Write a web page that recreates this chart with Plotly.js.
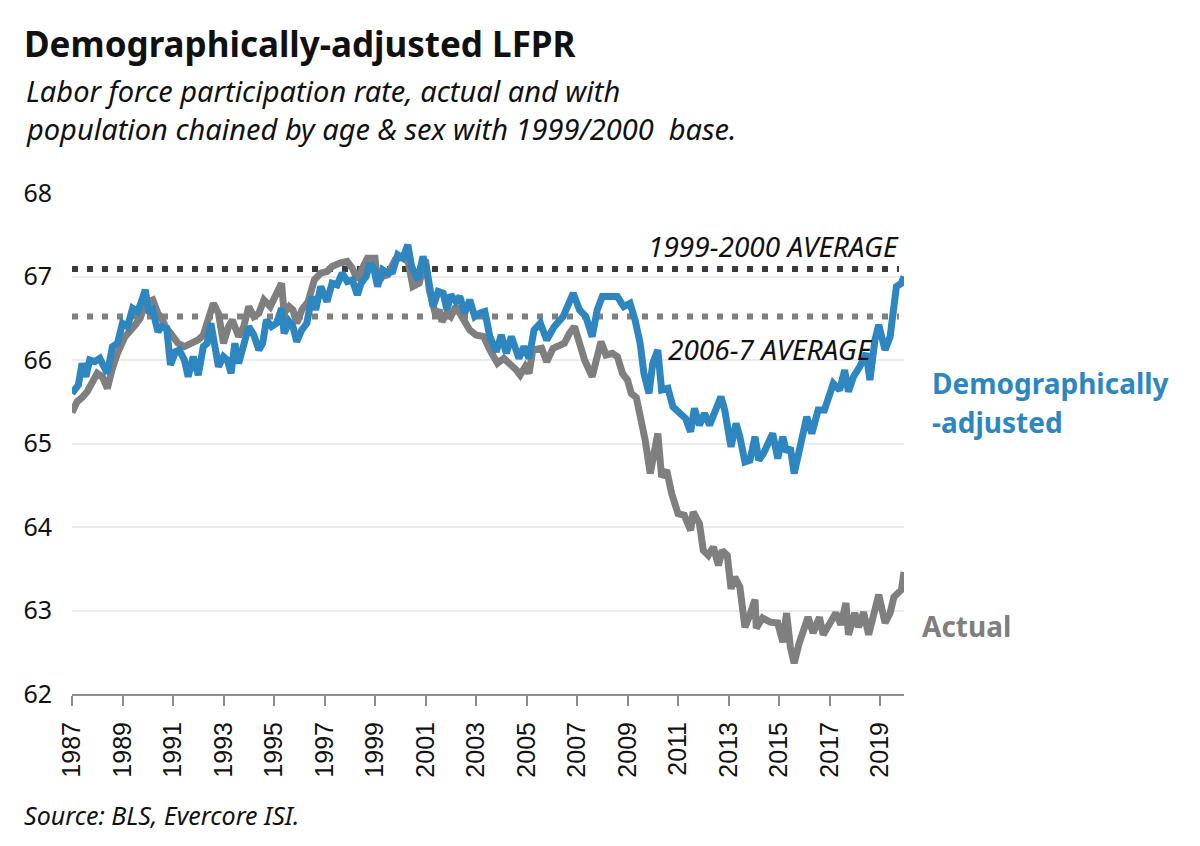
<!DOCTYPE html>
<html>
<head>
<meta charset="utf-8">
<script src="https://cdn.plot.ly/plotly-3.0.1.min.js"></script>
<style>html,body{margin:0;padding:0;background:#fff;}#chart{width:1200px;height:846px;}</style>
</head>
<body>
<div id="chart"></div>
<script>
// Demographically-adjusted LFPR (decimal years)
var adjYears = [1987.0,1987.25,1987.4,1987.55,1987.7,1987.9,1988.1,1988.3,1988.4,1988.6,1988.8,1989.0,1989.2,1989.4,1989.6,1989.75,1989.9,1990.05,1990.2,1990.4,1990.55,1990.75,1990.9,1991.1,1991.25,1991.45,1991.6,1991.8,1992.0,1992.2,1992.35,1992.5,1992.65,1992.8,1993.0,1993.15,1993.3,1993.45,1993.6,1993.8,1994.0,1994.2,1994.4,1994.55,1994.7,1994.9,1995.1,1995.3,1995.4,1995.6,1995.75,1995.9,1996.1,1996.3,1996.5,1996.65,1996.85,1997.1,1997.3,1997.5,1997.7,1997.9,1998.1,1998.3,1998.45,1998.65,1998.8,1998.95,1999.1,1999.3,1999.5,1999.7,1999.9,2000.1,2000.3,2000.45,2000.7,2000.9,2001.05,2001.3,2001.5,2001.7,2001.85,2002.0,2002.2,2002.36,2002.55,2002.75,2002.95,2003.15,2003.35,2003.55,2003.8,2004.0,2004.2,2004.4,2004.7,2004.9,2005.1,2005.3,2005.55,2005.8,2006.1,2006.45,2006.65,2006.85,2007.1,2007.35,2007.6,2007.8,2008.0,2008.3,2008.6,2008.85,2009.1,2009.3,2009.5,2009.65,2009.85,2010.0,2010.2,2010.35,2010.6,2010.8,2011.1,2011.3,2011.5,2011.65,2011.85,2012.05,2012.25,2012.45,2012.7,2012.85,2013.1,2013.3,2013.45,2013.65,2013.85,2014.05,2014.2,2014.4,2014.6,2014.75,2014.95,2015.15,2015.3,2015.45,2015.6,2015.85,2016.1,2016.3,2016.55,2016.8,2017.0,2017.15,2017.4,2017.6,2017.75,2017.95,2018.2,2018.45,2018.6,2018.8,2018.95,2019.2,2019.4,2019.5,2019.65,2019.85,2019.95];
var adjValues = [65.60,65.70,65.96,65.80,66.00,65.98,66.02,65.90,65.84,66.16,66.20,66.44,66.40,66.62,66.58,66.70,66.84,66.56,66.60,66.34,66.40,66.38,65.94,66.10,66.12,66.00,65.80,66.04,65.82,66.16,66.20,66.44,66.20,65.92,66.04,66.00,65.84,66.20,65.96,66.20,66.40,66.30,66.12,66.20,66.48,66.40,66.44,66.62,66.32,66.46,66.40,66.22,66.36,66.44,66.76,66.60,66.88,66.70,66.92,66.90,67.04,66.94,66.96,66.78,66.92,67.00,67.16,67.10,66.88,67.08,67.04,67.06,67.26,67.22,67.38,67.12,66.96,67.24,67.08,66.64,66.82,66.80,66.60,66.78,66.70,66.76,66.56,66.72,66.52,66.56,66.58,66.28,66.10,66.30,66.08,66.28,66.02,66.16,66.02,66.36,66.44,66.24,66.40,66.52,66.68,66.80,66.60,66.52,66.28,66.60,66.76,66.76,66.76,66.64,66.68,66.48,66.20,65.84,65.60,65.96,66.12,65.64,65.66,65.44,65.36,65.30,65.14,65.42,65.22,65.36,65.22,65.40,65.56,65.40,64.96,65.24,65.08,64.78,64.80,65.08,64.80,64.89,65.00,65.12,64.82,65.08,64.90,64.95,64.64,65.00,65.32,65.12,65.40,65.40,65.56,65.72,65.64,65.88,65.62,65.80,65.92,66.08,65.76,66.24,66.42,66.12,66.28,66.60,66.88,66.92,67.00];

// Actual LFPR (decimal years)
var actYears = [1987.0,1987.2,1987.4,1987.6,1987.8,1988.0,1988.2,1988.4,1988.6,1988.8,1989.1,1989.3,1989.5,1989.7,1989.9,1990.2,1990.4,1990.55,1990.7,1990.95,1991.2,1991.45,1991.7,1992.0,1992.2,1992.45,1992.6,1992.8,1993.0,1993.2,1993.35,1993.6,1993.8,1994.0,1994.2,1994.4,1994.6,1994.85,1995.1,1995.3,1995.4,1995.6,1995.75,1995.9,1996.1,1996.35,1996.6,1996.85,1997.1,1997.3,1997.6,1997.9,1998.1,1998.3,1998.5,1998.7,1999.0,1999.1,1999.3,1999.5,1999.8,2000.1,2000.3,2000.5,2000.75,2001.0,2001.15,2001.4,2001.55,2001.65,2001.85,2002.0,2002.2,2002.45,2002.75,2003.0,2003.3,2003.55,2003.85,2004.1,2004.35,2004.6,2004.75,2004.95,2005.1,2005.25,2005.6,2005.8,2006.05,2006.5,2006.7,2006.9,2007.1,2007.3,2007.6,2007.8,2007.95,2008.15,2008.4,2008.6,2008.8,2009.0,2009.15,2009.35,2009.55,2009.7,2009.9,2010.2,2010.35,2010.55,2010.75,2011.0,2011.25,2011.5,2011.6,2011.85,2012.0,2012.2,2012.4,2012.6,2012.75,2012.95,2013.1,2013.25,2013.45,2013.65,2013.85,2014.05,2014.1,2014.35,2014.65,2014.95,2015.15,2015.3,2015.45,2015.6,2015.8,2016.0,2016.15,2016.35,2016.6,2016.75,2017.0,2017.25,2017.45,2017.65,2017.75,2018.0,2018.15,2018.35,2018.55,2018.75,2018.95,2019.2,2019.4,2019.55,2019.7,2019.85,2019.95];
var actValues = [65.37,65.50,65.55,65.62,65.73,65.84,65.80,65.66,65.90,66.08,66.28,66.34,66.42,66.50,66.68,66.72,66.56,66.50,66.40,66.30,66.20,66.16,66.20,66.24,66.30,66.56,66.68,66.56,66.20,66.40,66.48,66.28,66.40,66.64,66.52,66.56,66.72,66.64,66.78,66.92,66.56,66.64,66.60,66.44,66.60,66.70,66.96,67.04,67.06,67.12,67.16,67.18,67.10,66.96,67.10,67.22,67.22,66.92,67.00,67.02,67.20,67.24,67.20,66.88,66.92,67.20,66.84,66.54,66.60,66.46,66.56,66.52,66.64,66.52,66.36,66.30,66.28,66.12,65.96,66.02,65.96,65.88,65.82,65.92,65.84,66.12,66.14,65.98,66.14,66.20,66.32,66.40,66.20,66.00,65.80,66.04,66.22,66.06,66.08,66.04,65.84,65.76,65.60,65.55,65.28,65.04,64.64,65.12,64.60,64.68,64.40,64.16,64.14,63.96,64.18,64.04,63.72,63.66,63.76,63.54,63.72,63.66,63.26,63.40,63.28,62.80,62.95,63.13,62.79,62.91,62.86,62.85,62.62,62.97,62.56,62.37,62.61,62.77,62.92,62.73,62.92,62.71,62.85,62.97,62.83,63.09,62.71,62.97,62.80,62.98,62.71,62.92,63.19,62.85,62.97,63.16,63.21,63.25,63.46];

// Reference averages
var avgLabels = ["1999-2000 AVERAGE", "2006-7 AVERAGE"];
var avgValues = [67.09, 66.52];
var avgSpan = [1987, 2019.75];

var xTickYears = [1987,1989,1991,1993,1995,1997,1999,2001,2003,2005,2007,2009,2011,2013,2015,2017,2019];
var yTicks = [62,63,64,65,66,67,68];

var traces = [
  {x: avgSpan, y: [avgValues[0], avgValues[0]], mode: 'lines', line: {color: '#3c3c3c', width: 6, dash: '6px,9px'}, hoverinfo: 'skip'},
  {x: avgSpan, y: [avgValues[1], avgValues[1]], mode: 'lines', line: {color: '#808080', width: 6, dash: '6px,9px'}, hoverinfo: 'skip'},
  {x: actYears, y: actValues, mode: 'lines', name: 'Actual', line: {color: '#7f7f7f', width: 7}},
  {x: adjYears, y: adjValues, mode: 'lines', name: 'Demographically-adjusted', line: {color: '#2e86c1', width: 7}}
];

var W = 832, H = 501, L = 72, T = 193;
function px(x){ return (x - L) / W; }
function py(y){ return (T + H - y) / H; }

var font = "'Noto Sans', 'Open Sans', sans-serif";

var layout = {
  width: 1200, height: 846,
  margin: {l: 72, r: 296, t: 193, b: 152, pad: 0},
  paper_bgcolor: '#ffffff', plot_bgcolor: '#ffffff',
  showlegend: false,
  font: {family: font, color: '#111'},
  title: {text: '<b>Demographically-adjusted LFPR</b>', x: 24/1200, xanchor: 'left', y: 1 - 45/846, yanchor: 'middle', font: {family: font, size: 35, color: '#111'}},
  xaxis: {
    range: [1987, 2019.95], tickmode: 'array', tickvals: xTickYears, ticktext: xTickYears.map(String),
    tickangle: -90, ticks: 'outside', ticklen: 10, tickwidth: 2, tickcolor: '#8c8c8c',
    showline: true, linecolor: '#8c8c8c', linewidth: 2, showgrid: false, zeroline: false,
    ticklabelstandoff: 6,
    tickfont: {family: "'Liberation Sans', Arial, sans-serif", size: 25, color: '#111'}
  },
  yaxis: {
    range: [62, 68], tickmode: 'array', tickvals: yTicks, ticks: '', showline: false,
    gridcolor: '#ebebeb', gridwidth: 2, zeroline: false, ticklabelstandoff: 19,
    tickfont: {family: font, size: 25, color: '#111'}
  },
  annotations: [
    {text: '<i>Labor force participation rate, actual and with</i>', xref: 'paper', yref: 'paper', x: px(24), y: py(91), xanchor: 'left', yanchor: 'middle', showarrow: false, font: {family: font, size: 29, color: '#111'}},
    {text: '<i>population chained by age &amp; sex with 1999/2000  base.</i>', xref: 'paper', yref: 'paper', x: px(24), y: py(129), xanchor: 'left', yanchor: 'middle', showarrow: false, font: {family: font, size: 29, color: '#111'}},
    {text: '<i>Source: BLS, Evercore ISI.</i>', xref: 'paper', yref: 'paper', x: px(22), y: py(815), xanchor: 'left', yanchor: 'middle', showarrow: false, font: {family: font, size: 25, color: '#111'}},
    {text: '<i>' + avgLabels[0] + '</i>', xref: 'paper', yref: 'paper', x: px(773), y: py(246), xanchor: 'center', yanchor: 'middle', showarrow: false, font: {family: font, size: 28, color: '#111'}},
    {text: '<i>' + avgLabels[1] + '</i>', xref: 'paper', yref: 'paper', x: px(770), y: py(349), xanchor: 'center', yanchor: 'middle', showarrow: false, font: {family: font, size: 28, color: '#111'}},
    {text: '<b>Demographically</b>', xref: 'paper', yref: 'paper', x: px(930), y: py(383), xanchor: 'left', yanchor: 'middle', showarrow: false, font: {family: font, size: 28, color: '#2e86c1'}},
    {text: '<b>-adjusted</b>', xref: 'paper', yref: 'paper', x: px(930), y: py(422), xanchor: 'left', yanchor: 'middle', showarrow: false, font: {family: font, size: 28, color: '#2e86c1'}},
    {text: '<b>Actual</b>', xref: 'paper', yref: 'paper', x: px(920), y: py(626), xanchor: 'left', yanchor: 'middle', showarrow: false, font: {family: font, size: 28, color: '#7f7f7f'}}
  ]
};

Plotly.newPlot('chart', traces, layout, {staticPlot: true, displayModeBar: false});
</script>
</body>
</html>
